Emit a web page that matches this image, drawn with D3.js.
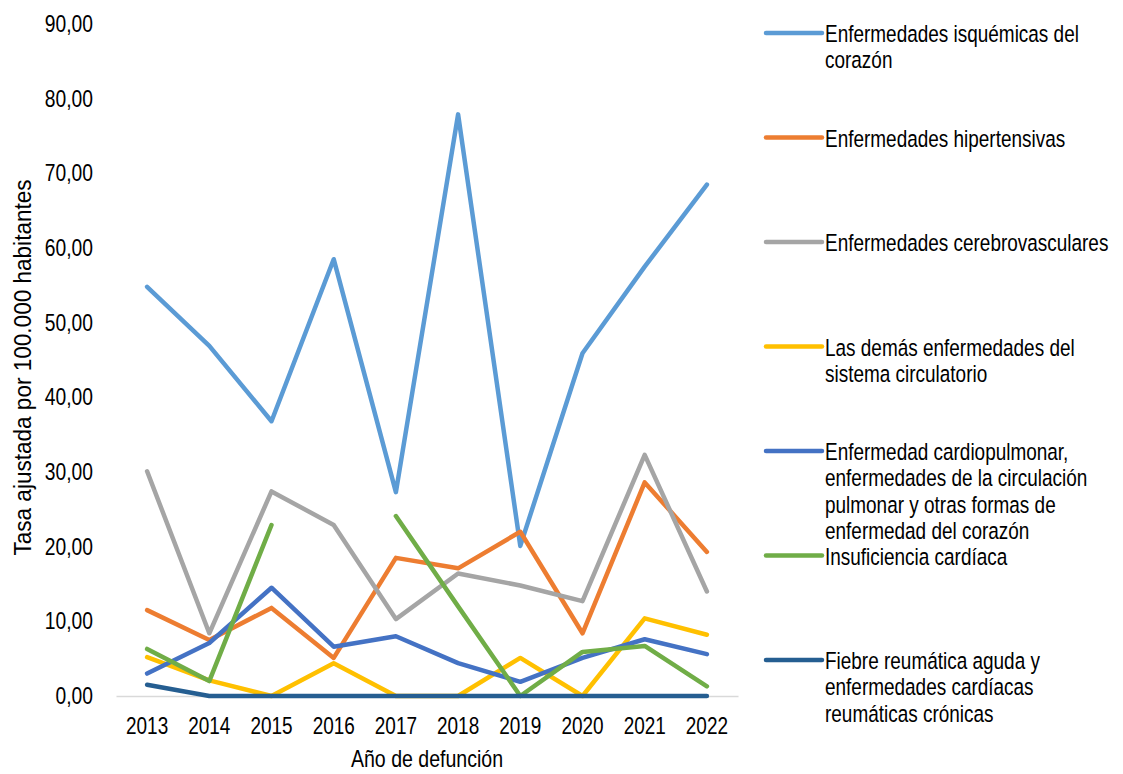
<!DOCTYPE html>
<html>
<head>
<meta charset="utf-8">
<script src="https://cdn.jsdelivr.net/npm/d3@7"></script>
<style>
  body { margin: 0; background: #fff; }
  text { font-family: "Liberation Sans", Arial, sans-serif; fill: #000; }
</style>
</head>
<body>
<div id="chart"></div>
<script>
// Data
const years = ["2013", "2014", "2015", "2016", "2017", "2018", "2019", "2020", "2021", "2022"];
const isquemicas = [54.8, 46.9, 36.8, 58.5, 27.3, 77.9, 20.1, 45.9, 57.5, 68.5];
const hipertensivas = [11.5, 7.5, 11.8, 5.1, 18.5, 17.1, 22.0, 8.4, 28.6, 19.3];
const cerebrovasculares = [30.1, 8.4, 27.4, 22.9, 10.3, 16.4, 14.8, 12.7, 32.3, 14.0];
const demas = [5.2, 2.1, 0, 4.4, 0, 0, 5.1, 0, 10.4, 8.2];
const cardiopulmonar = [3.0, 7.1, 14.5, 6.6, 8.0, 4.4, 1.9, 5.1, 7.6, 5.6];
const insuficiencia = [6.3, 2.0, 22.9, null, 24.1, 12.0, 0, 5.9, 6.7, 1.3];
const reumatica = [1.5, 0, 0, 0, 0, 0, 0, 0, 0, 0];

const seriesNames = [
  ["Enfermedades isquémicas del", "corazón"],
  ["Enfermedades hipertensivas"],
  ["Enfermedades cerebrovasculares"],
  ["Las demás enfermedades del", "sistema circulatorio"],
  ["Enfermedad cardiopulmonar,", "enfermedades de la circulación", "pulmonar y otras formas de", "enfermedad del corazón"],
  ["Insuficiencia cardíaca"],
  ["Fiebre reumática aguda y", "enfermedades cardíacas", "reumáticas crónicas"]
];
const seriesValues = [isquemicas, hipertensivas, cerebrovasculares, demas, cardiopulmonar, insuficiencia, reumatica];
const colors = ["#5B9BD5", "#ED7D31", "#A5A5A5", "#FFC000", "#4472C4", "#70AD47", "#255E91"];
const yTicks = [0, 10, 20, 30, 40, 50, 60, 70, 80, 90];

const width = 1123, height = 774;
const marginLeft = 116, plotRight = 738, marginTop = 24, plotBottom = 696;

const svg = d3.select("#chart").append("svg")
    .attr("width", width)
    .attr("height", height);

// Scales
const x = d3.scaleBand()
    .domain(years)
    .range([marginLeft, plotRight]);

const y = d3.scaleLinear()
    .domain([0, 90])
    .range([plotBottom, marginTop]);

const fmt = v => d3.format(".2f")(v).replace(".", ",");

// Y axis (labels only, tall narrow-looking text)
svg.append("g")
    .attr("transform", `translate(93,0)`)
    .call(d3.axisLeft(y).tickValues(yTicks).tickFormat(fmt).tickSize(0).tickPadding(0))
    .call(g => g.select(".domain").remove())
    .call(g => g.selectAll("text")
        .attr("font-size", 23.5)
        .attr("transform", "scale(0.82,1)"));

// X axis
svg.append("g")
    .attr("transform", `translate(0,${plotBottom})`)
    .call(d3.axisBottom(x).tickSize(0).tickPadding(21))
    .call(g => g.select(".domain").attr("stroke", "#D9D9D9").attr("stroke-width", 1.5))
    .call(g => g.selectAll("text")
        .attr("font-size", 24)
        .attr("transform", "scale(0.79,1)"));

// Axis titles
svg.append("text")
    .attr("transform", `translate(${(marginLeft + plotRight) / 2},767) scale(0.85,1)`)
    .attr("text-anchor", "middle")
    .attr("font-size", 23)
    .text("Año de defunción");

svg.append("text")
    .attr("transform", `translate(31,367.5) rotate(-90) scale(0.94,1)`)
    .attr("text-anchor", "middle")
    .attr("font-size", 24)
    .text("Tasa ajustada por 100.000 habitantes");

// Lines
const line = d3.line()
    .defined(d => d != null)
    .x((d, i) => x(years[i]) + x.bandwidth() / 2)
    .y(d => y(d));

seriesValues.forEach((vals, i) => {
    svg.append("path")
        .datum(vals)
        .attr("fill", "none")
        .attr("stroke", colors[i])
        .attr("stroke-width", 4.5)
        .attr("stroke-linejoin", "round")
        .attr("stroke-linecap", "round")
        .attr("d", line);
});

// Legend
const legendTop = 33, legendStep = 104.5, lineH = 26.5;
const legend = svg.selectAll(".legend")
    .data(seriesNames)
    .join("g")
    .attr("class", "legend")
    .attr("transform", (d, i) => `translate(766,${legendTop + i * legendStep})`);

legend.append("line")
    .attr("x1", 0)
    .attr("x2", 56)
    .attr("stroke", (d, i) => colors[i])
    .attr("stroke-width", 4.5)
    .attr("stroke-linecap", "round");

legend.append("text")
    .attr("transform", "translate(59,0) scale(0.8,1)")
    .attr("font-size", 23.7)
    .selectAll("tspan")
    .data(d => d)
    .join("tspan")
    .attr("x", 0)
    .attr("y", (d, i) => 9 + i * lineH)
    .text(d => d);
</script>
</body>
</html>
